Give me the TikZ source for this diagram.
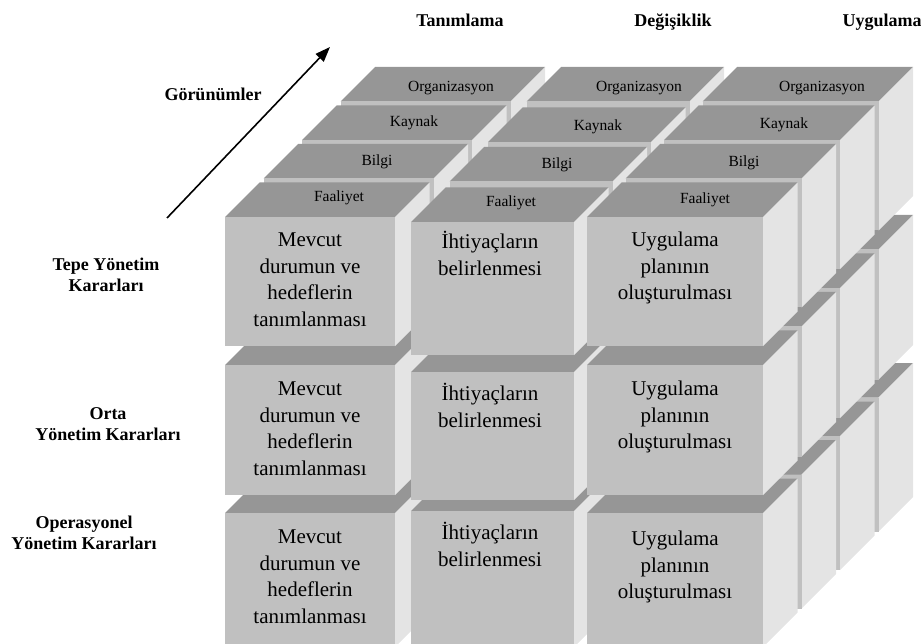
\documentclass[tikz,border=0pt]{standalone}
\usepackage{fontspec}
\setmainfont{Liberation Serif}
\usetikzlibrary{arrows.meta}

\definecolor{onrenk}{RGB}{192,192,192}
\definecolor{ustrenk}{RGB}{150,150,150}
\definecolor{yanrenk}{RGB}{228,228,228}

\tikzset{
  onyuz/.style={fill=onrenk},
  ustyuz/.style={fill=ustrenk},
  yanyuz/.style={fill=yanrenk},
  kutuyazi/.style={font=\fontsize{21}{26.5}\selectfont, align=center, anchor=north, inner sep=0pt,
    execute at begin node={\rule{0pt}{18pt}}},
  etiket/.style={font=\fontsize{15.5}{18}\selectfont, inner sep=0pt},
  baslik/.style={font=\bfseries\fontsize{18}{21}\selectfont, align=center, inner sep=0pt}
  ,ok/.style={line width=1.6pt, -{Triangle[length=15pt,width=11pt]}}
}

\newcommand{\derin}{34.5}
% sol x, ust y, genislik, yukseklik
\newcommand{\kutu}[4]{%
  \fill[ustyuz] (#1,#2) -- ++(\derin,-\derin) -- ++(#3,0) -- ++(-\derin,\derin) -- cycle;
  \fill[yanyuz] (#1+#3,#2) -- ++(\derin,-\derin) -- ++(0,#4) -- ++(-\derin,\derin) -- cycle;
  \fill[onyuz] (#1,#2) rectangle ++(#3,#4);
}

\begin{document}
\begin{tikzpicture}[x=1pt,y=-1pt]
    \useasboundingbox (0,0) rectangle (921,644);

    % Organizasyon
    \kutu{340.5}{397.5}{170}{134}
    \kutu{526.5}{397.5}{163}{134}
    \kutu{702.5}{397.5}{176}{134}
    \kutu{340.5}{249.5}{170}{130}
    \kutu{526.5}{249.5}{163}{130}
    \kutu{702.5}{249.5}{176}{130}
    \kutu{340.5}{101.5}{170}{129}
    \kutu{526.5}{101.5}{163}{129}
    \kutu{702.5}{101.5}{176}{129}
    % Kaynak
    \kutu{302}{436}{170}{134}
    \kutu{488}{436}{163}{134}
    \kutu{664}{436}{176}{134}
    \kutu{302}{288}{170}{130}
    \kutu{488}{288}{163}{130}
    \kutu{664}{288}{176}{130}
    \kutu{302}{140}{170}{129}
    \kutu{488}{142}{163}{129}
    \kutu{664}{140}{176}{129}
    % Bilgi
    \kutu{263.5}{474.5}{170}{134}
    \kutu{449.5}{474.5}{163}{134}
    \kutu{625.5}{474.5}{176}{134}
    \kutu{263.5}{326.5}{170}{130}
    \kutu{449.5}{326.5}{163}{130}
    \kutu{625.5}{326.5}{176}{130}
    \kutu{263.5}{178.5}{170}{129}
    \kutu{449.5}{181.5}{163}{129}
    \kutu{625.5}{178.5}{176}{129}
    % Faaliyet
    \kutu{225}{513}{170}{134}
    \kutu{411}{511}{163}{136}
    \kutu{587}{513}{176}{134}
    \kutu{225}{365}{170}{130}
    \kutu{411}{372}{163}{128}
    \kutu{587}{365}{176}{130}
    \kutu{225}{217}{170}{129}
    \kutu{411}{222}{163}{133}
    \kutu{587}{217}{176}{129}

    % on yuz yazilari
    \node[kutuyazi] (mevcut1) at (310,233) {Mevcut\\durumun ve\\hedeflerin\\tanımlanması};
    \node[kutuyazi] (mevcut2) at (310,382) {Mevcut\\durumun ve\\hedeflerin\\tanımlanması};
    \node[kutuyazi] (mevcut3) at (310,530) {Mevcut\\durumun ve\\hedeflerin\\tanımlanması};
    \node[kutuyazi] (ihtiyac1) at (490,231) {İhtiyaçların\\belirlenmesi};
    \node[kutuyazi] (ihtiyac2) at (490,383) {İhtiyaçların\\belirlenmesi};
    \node[kutuyazi] (ihtiyac3) at (490,522) {İhtiyaçların\\belirlenmesi};
    \node[kutuyazi] (uygula1) at (675,232) {Uygulama\\planının\\oluşturulması};
    \node[kutuyazi] (uygula2) at (675,381) {Uygulama\\planının\\oluşturulması};
    \node[kutuyazi] (uygula3) at (675,531) {Uygulama\\planının\\oluşturulması};

    % ust yuz etiketleri
    \node[etiket] (faal1) at (339,198) {Faaliyet};
    \node[etiket] (bilgi1) at (377,162) {Bilgi};
    \node[etiket] (kaynak1) at (414,123) {Kaynak};
    \node[etiket] (org1) at (451,88) {Organizasyon};
    \node[etiket] (faal2) at (511,203) {Faaliyet};
    \node[etiket] (bilgi2) at (557,165) {Bilgi};
    \node[etiket] (kaynak2) at (598,127) {Kaynak};
    \node[etiket] (org2) at (639,88) {Organizasyon};
    \node[etiket] (faal3) at (705,200) {Faaliyet};
    \node[etiket] (bilgi3) at (744,163) {Bilgi};
    \node[etiket] (kaynak3) at (784,125) {Kaynak};
    \node[etiket] (org3) at (822,88) {Organizasyon};

    % basliklar
    \node[baslik, anchor=base] (tanim) at (460,27) {Tanımlama};
    \node[baslik, anchor=base] (degis) at (673,27) {Değişiklik};
    \node[baslik, anchor=base] (uygul) at (882,27) {Uygulama};
    \node[baslik] (gorun) at (213,94) {Görünümler};
    \node[baslik] (tepe) at (106,275) {Tepe Yönetim\\Kararları};
    \node[baslik] (orta) at (108,424) {Orta\\Yönetim Kararları};
    \node[baslik] (oper) at (84,533) {Operasyonel\\Yönetim Kararları};

    % ok
    \coordinate (okbas) at (167,218);
    \coordinate (okuc) at (330,47);
    \draw[ok] (okbas) -- (okuc);
\end{tikzpicture}
\end{document}
